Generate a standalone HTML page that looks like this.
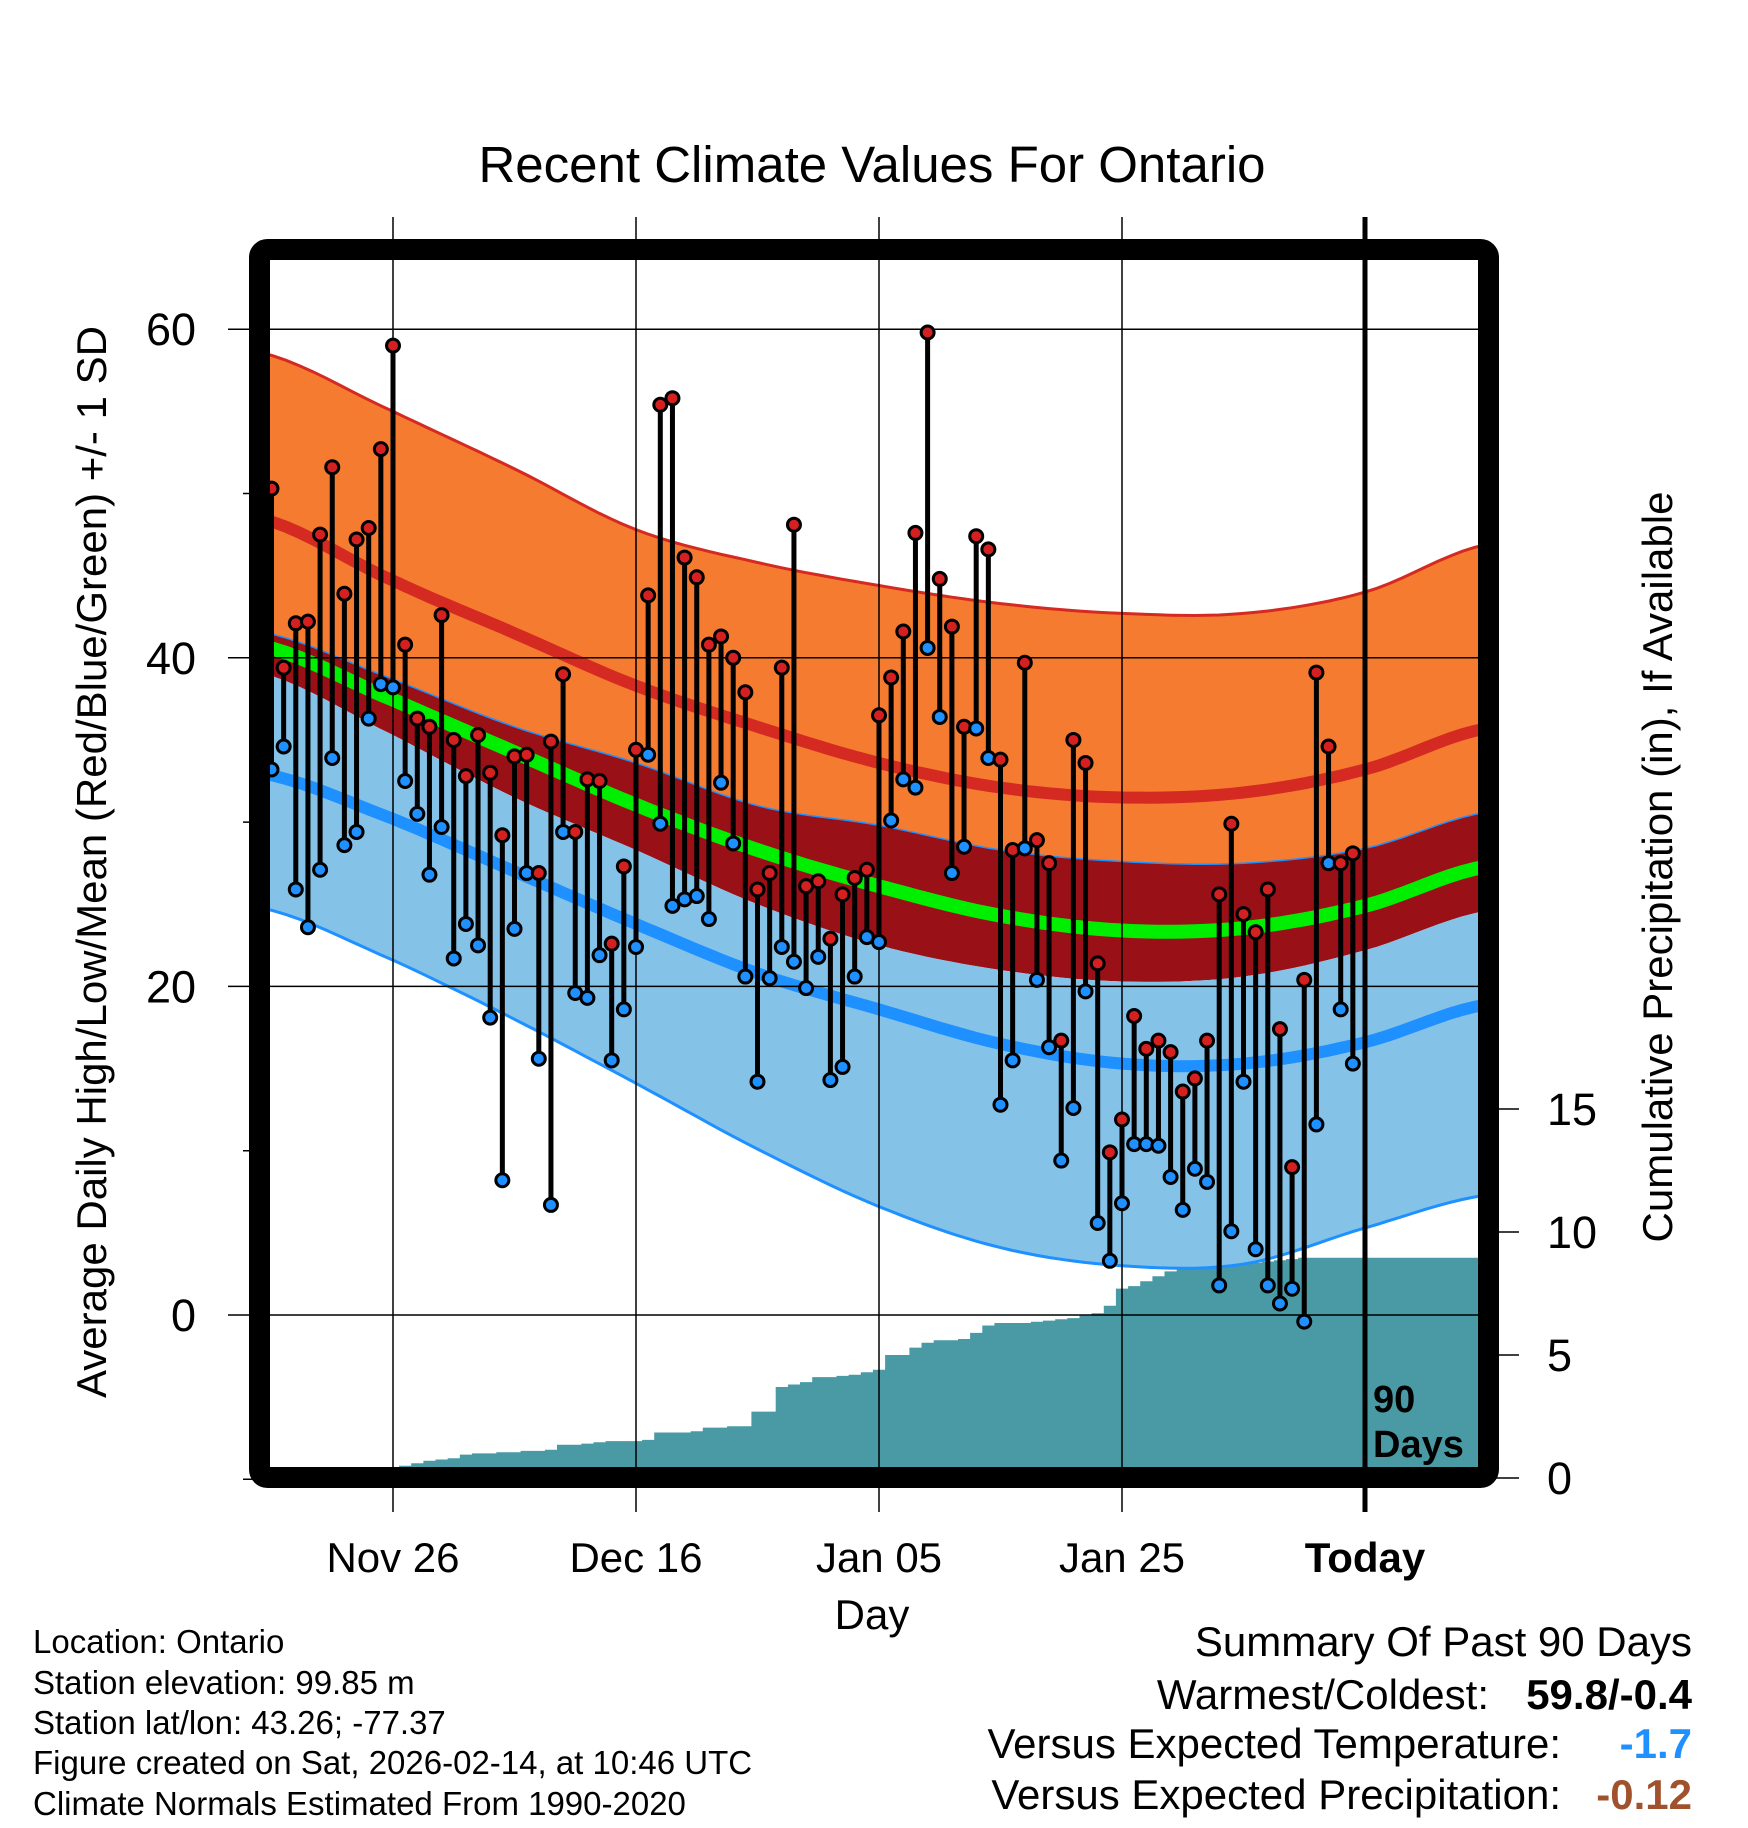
<!DOCTYPE html>
<html><head><meta charset="utf-8"><style>
html,body{margin:0;padding:0;background:#fff;}
svg{display:block;font-family:"Liberation Sans",Arial,sans-serif;}
</style></head><body>
<svg id="chart" width="1748" height="1828" viewBox="0 0 1748 1828" xmlns="http://www.w3.org/2000/svg">
<text x="872" y="182" font-size="51" text-anchor="middle">Recent Climate Values For Ontario</text>
<g id="precip"></g>
<g id="normals"></g>
<g id="grid"></g>
<g id="data"></g>
<g id="frame"></g>
<text x="872" y="1629" font-size="42" text-anchor="middle">Day</text>
<text transform="translate(106,862) rotate(-90)" font-size="42" text-anchor="middle">Average Daily High/Low/Mean (Red/Blue/Green) +/- 1 SD</text>
<text transform="translate(1672,867) rotate(-90)" font-size="42" text-anchor="middle">Cumulative Precipitation (in), If Available</text>
<text x="1373" y="1412" font-size="38" font-weight="bold">90</text>
<text x="1373" y="1457" font-size="38" font-weight="bold">Days</text>
<g font-size="33">
<text x="33" y="1653">Location: Ontario</text>
<text x="33" y="1694">Station elevation: 99.85 m</text>
<text x="33" y="1734">Station lat/lon: 43.26; -77.37</text>
<text x="33" y="1774">Figure created on Sat, 2026-02-14, at 10:46 UTC</text>
<text x="33" y="1815">Climate Normals Estimated From 1990-2020</text>
</g>
<g font-size="42">
<text x="1692" y="1656" text-anchor="end">Summary Of Past 90 Days</text>
<text x="1489" y="1709" text-anchor="end">Warmest/Coldest:</text>
<text x="1692" y="1709" text-anchor="end" font-weight="bold">59.8/-0.4</text>
<text x="1561" y="1758" text-anchor="end">Versus Expected Temperature:</text>
<text x="1692" y="1758" text-anchor="end" font-weight="bold" fill="#1e90ff">-1.7</text>
<text x="1561" y="1809" text-anchor="end">Versus Expected Precipitation:</text>
<text x="1692" y="1809" text-anchor="end" font-weight="bold" fill="#a0522d">-0.12</text>
</g>
</svg>
<script>
// days relative to Nov 26
const days = [];
for (let d = -10; d <= 79; d++) days.push(d);
const highs = [50.3,39.4,42.1,42.2,47.5,51.6,43.9,47.2,47.9,52.7,59.0,40.8,36.3,35.8,42.6,35.0,32.8,35.3,33.0,29.2,34.0,34.1,26.9,34.9,39.0,29.4,32.6,32.5,22.6,27.3,34.4,43.8,55.4,55.8,46.1,44.9,40.8,41.3,40.0,37.9,25.9,26.9,39.4,48.1,26.1,26.4,22.9,25.6,26.6,27.1,36.5,38.8,41.6,47.6,59.8,44.8,41.9,35.8,47.4,46.6,33.8,28.3,39.7,28.9,27.5,16.7,35.0,33.6,21.4,9.9,11.9,18.2,16.2,16.7,16.0,13.6,14.4,16.7,25.6,29.9,24.4,23.3,25.9,17.4,9.0,20.4,39.1,34.6,27.5,28.1];
const lows = [33.2,34.6,25.9,23.6,27.1,33.9,28.6,29.4,36.3,38.4,38.2,32.5,30.5,26.8,29.7,21.7,23.8,22.5,18.1,8.2,23.5,26.9,15.6,6.7,29.4,19.6,19.3,21.9,15.5,18.6,22.4,34.1,29.9,24.9,25.3,25.5,24.1,32.4,28.7,20.6,14.2,20.5,22.4,21.5,19.9,21.8,14.3,15.1,20.6,23.0,22.7,30.1,32.6,32.1,40.6,36.4,26.9,28.5,35.7,33.9,12.8,15.5,28.4,20.4,16.3,9.4,12.6,19.7,5.6,3.3,6.8,10.4,10.4,10.3,8.4,6.4,8.9,8.1,1.8,5.1,14.2,4.0,1.8,0.7,1.6,-0.4,11.6,27.5,18.6,15.3];
const precipCum = [0,0,0,0,0,0,0,0,0,0,0.05,0.5,0.6,0.7,0.75,0.8,0.95,1.0,1.0,1.05,1.05,1.1,1.1,1.15,1.35,1.35,1.4,1.45,1.5,1.5,1.5,1.55,1.85,1.85,1.85,1.9,2.05,2.05,2.1,2.1,2.7,2.7,3.7,3.8,3.9,4.1,4.1,4.15,4.2,4.3,4.4,5.0,5.0,5.3,5.5,5.6,5.6,5.65,5.9,6.2,6.3,6.3,6.3,6.35,6.4,6.45,6.5,6.6,6.7,7.0,7.7,7.8,8.0,8.2,8.4,8.5,8.55,8.6,8.65,8.7,8.75,8.75,8.8,8.85,8.9,8.95,8.95,8.95,8.95,8.95];
const normDays = [-11,0,10,20,30,40,50,60,70,80,90];
const highPlusSD = [58.6,55.0,51.5,47.8,45.8,44.4,43.3,42.7,42.7,44.0,46.9];
const highMean = [48.5,44.7,41.5,38.3,35.8,33.6,32.1,31.5,31.8,33.2,35.7];
const highMinusSD = [39.1,35.3,31.5,28.3,25.0,22.5,21.0,20.3,20.6,22.2,24.6];
const lowPlusSD = [41.6,38.7,35.8,33.6,31.0,29.8,28.3,27.6,27.5,28.4,30.6];
const lowMean = [33.0,30.2,27.0,23.8,20.8,18.6,16.5,15.3,15.3,16.6,18.9];
const lowMinusSD = [24.8,21.6,18.0,14.1,10.1,6.6,4.1,3.0,3.1,5.3,7.3];
const tickDates = [0,20,40,60,80];
const tickLabels = ["Nov 26","Dec 16","Jan 05","Jan 25","Today"];
const yTicks = [0,20,40,60];
const yMinor = [-10,10,30,50];
const pTicks = [0,5,10,15];

const NS = "http://www.w3.org/2000/svg";
const L = 259.5, R = 1488.5, T = 249.5, B = 1477.5;
const xS = d => 393 + d * 12.15;
const yS = v => 1315 - v * 16.43;
const pS = p => 1478 - p * 24.6;
function mk(tag, attrs, parent) {
  const e = document.createElementNS(NS, tag);
  for (const k in attrs) e.setAttribute(k, attrs[k]);
  parent.appendChild(e);
  return e;
}
function smoothPts(arr) {
  const pts = [];
  const n = arr.length;
  for (let i = 0; i < n - 1; i++) {
    const p0 = arr[Math.max(0, i - 1)], p1 = arr[i], p2 = arr[i + 1], p3 = arr[Math.min(n - 1, i + 2)];
    const d0 = normDays[i], d1 = normDays[i + 1];
    for (let s = 0; s < 10; s++) {
      const t = s / 10;
      const v = 0.5 * ((2 * p1) + (-p0 + p2) * t + (2 * p0 - 5 * p1 + 4 * p2 - p3) * t * t + (-p0 + 3 * p1 - 3 * p2 + p3) * t * t * t);
      pts.push([xS(d0 + (d1 - d0) * t), yS(v)]);
    }
  }
  pts.push([xS(normDays[n - 1]), yS(arr[n - 1])]);
  return pts;
}
function band(top, bot, fill, name) {
  const a = smoothPts(top), b = smoothPts(bot).reverse();
  const d = "M" + a.concat(b).map(p => p[0].toFixed(1) + "," + p[1].toFixed(1)).join("L") + "Z";
  const e = mk("path", { d: d, fill: fill, stroke: "none" }, document.getElementById("normals"));
  
  
}
function line(arr, color, w, name) {
  const d = "M" + smoothPts(arr).map(p => p[0].toFixed(1) + "," + p[1].toFixed(1)).join("L");
  const e = mk("path", { d: d, fill: "none", stroke: color, "stroke-width": w }, document.getElementById("normals"));
  
  
}
(function () {
  const g = document.getElementById("precip");
  let d = "M" + L + "," + pS(0);
  for (let i = 0; i < days.length; i++) {
    const x0 = Math.max(L, xS(days[i] - 0.5));
    d += "L" + x0.toFixed(1) + "," + pS(precipCum[i]).toFixed(1);
    d += "L" + xS(days[i] + 0.5).toFixed(1) + "," + pS(precipCum[i]).toFixed(1);
  }
  d += "L" + R + "," + pS(precipCum[precipCum.length - 1]).toFixed(1) + "L" + R + "," + pS(0) + "Z";
  const e = mk("path", { d: d, fill: "#4a9aa5" }, g);
  
  
})();
band(highPlusSD, lowPlusSD, "#f47b2f", "high-sd-band");
band(lowPlusSD, highMinusSD, "#991016", "overlap-band");
band(highMinusSD, lowMinusSD, "#84c2e8", "low-sd-band");
line(highPlusSD, "#d42a22", 3, "high-plus-sd-line");
line(lowMinusSD, "#1e90ff", 3, "low-minus-sd-line");
line(lowPlusSD, "#1e90ff", 1.5, "low-plus-sd-line");
line(highMean, "#d42a22", 12, "high-mean-line");
line(lowMean, "#1e90ff", 12, "low-mean-line");
line(highMean.map((h, i) => (h + lowMean[i]) / 2), "#00ee00", 14, "mean-line");
(function () {
  const g = document.getElementById("grid");
  yTicks.forEach(v => {
    const l = mk("line", { x1: 228, x2: R, y1: yS(v), y2: yS(v), stroke: "#000", "stroke-width": 1.5 }, g);
    
    
    const t = mk("text", { x: 196, y: yS(v) + 16, "font-size": 45, "text-anchor": "end" }, g);
    t.textContent = v;
    
    
  });
  yMinor.forEach(v => {
    const l = mk("line", { x1: 243, x2: L, y1: yS(v), y2: yS(v), stroke: "#000", "stroke-width": 1.5 }, g);
    
    
  });
  tickDates.forEach((d, i) => {
    const l = mk("line", { x1: xS(d), x2: xS(d), y1: 217, y2: 1512, stroke: "#000", "stroke-width": i === 4 ? 5 : 1.5 }, g);
    
    
    const t = mk("text", { x: xS(d), y: 1572, "font-size": 42, "text-anchor": "middle" }, g);
    if (i === 4) t.setAttribute("font-weight", "bold");
    t.textContent = tickLabels[i];
    
    
  });
  pTicks.forEach(p => {
    const l = mk("line", { x1: R, x2: 1519, y1: pS(p), y2: pS(p), stroke: "#000", "stroke-width": 1.5 }, g);
    
    
    const t = mk("text", { x: 1547, y: pS(p) + 16, "font-size": 45 }, g);
    t.textContent = p;
    
    
  });
})();
(function () {
  const g = document.getElementById("data");
  for (let i = 0; i < days.length; i++) {
    const l = mk("line", { x1: xS(days[i]), x2: xS(days[i]), y1: yS(highs[i]), y2: yS(lows[i]), stroke: "#000", "stroke-width": 5 }, g);
    
    
  }
  for (let i = 0; i < days.length; i++) {
    const c1 = mk("circle", { cx: xS(days[i]), cy: yS(highs[i]), r: 6.5, fill: "#d42020", stroke: "#000", "stroke-width": 3 }, g);
    
    
    const c2 = mk("circle", { cx: xS(days[i]), cy: yS(lows[i]), r: 6.5, fill: "#1e90ff", stroke: "#000", "stroke-width": 3 }, g);
    
    
  }
})();
(function () {
  const f = mk("rect", { x: L, y: T, width: R - L, height: B - T, rx: 8, fill: "none", stroke: "#000", "stroke-width": 21 }, document.getElementById("frame"));
  
  
})();
</script>
</body></html>
